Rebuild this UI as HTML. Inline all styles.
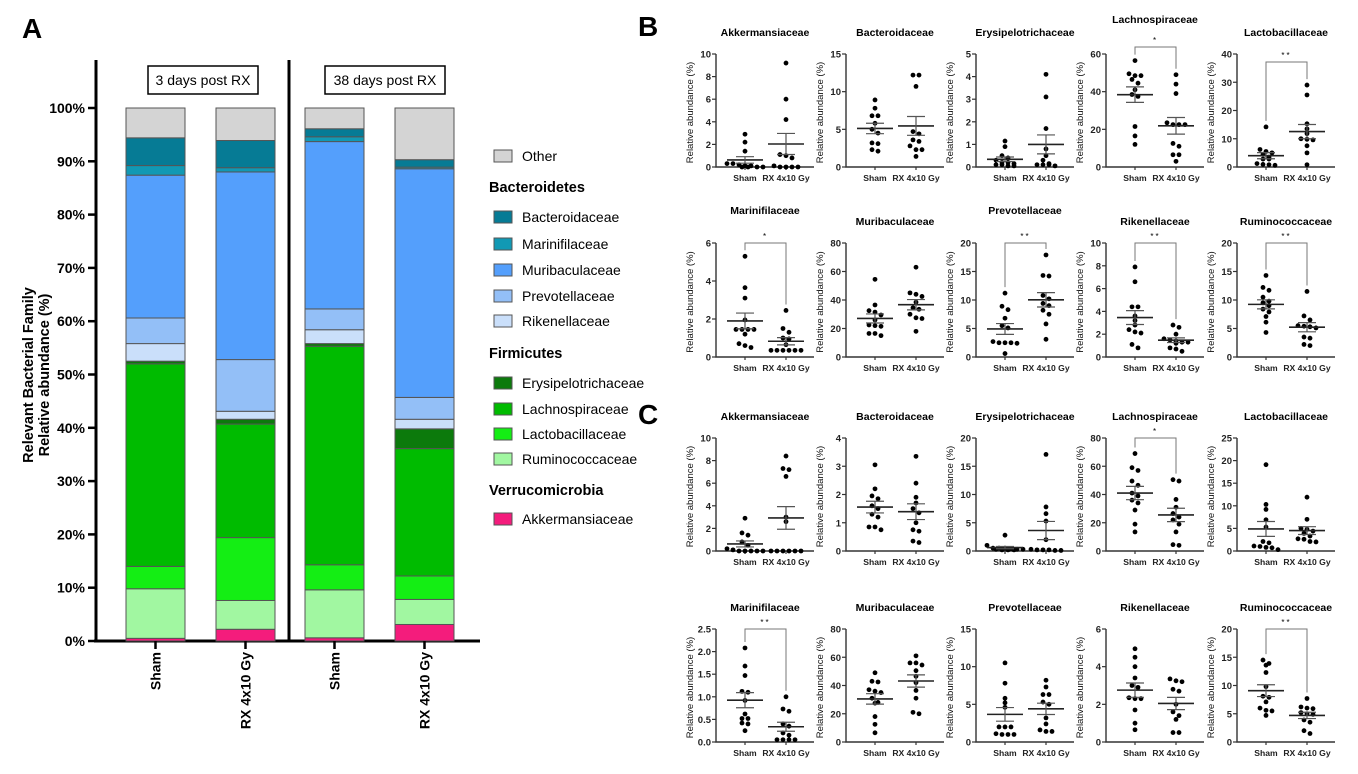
<!DOCTYPE html>
<html><head><meta charset="utf-8">
<style>
html,body{margin:0;padding:0;background:#fff;}
svg{display:block;font-family:"Liberation Sans",Arial,sans-serif;}
</style></head>
<body>
<svg id="fig" width="1358" height="774" viewBox="0 0 1358 774" xmlns="http://www.w3.org/2000/svg">
<g id="panelA"></g>
<g id="panelBC"></g>
</svg>
<script>
// ---------- Panel A data ----------
const familiesA = ["Akkermansiaceae","Ruminococcaceae","Lactobacillaceae","Lachnospiraceae","Erysipelotrichaceae","Rikenellaceae","Prevotellaceae","Muribaculaceae","Marinifilaceae","Bacteroidaceae","Other"];
const barGroupsA = ["Sham","RX 4x10 Gy","Sham","RX 4x10 Gy"];
const sham3 = [0.5,9.3,4.2,38.0,0.5,3.3,4.8,26.8,1.8,5.2,5.6];
const rx3 = [2.2,5.4,11.8,21.3,0.9,1.5,9.7,35.2,0.8,5.1,6.1];
const sham38 = [0.6,9.0,4.7,41.0,0.5,2.6,3.9,31.4,0.9,1.5,3.9];
const rx38 = [3.1,4.7,4.4,23.9,3.7,1.8,4.1,42.9,0.3,1.4,9.7];
const yTicksA = [0,10,20,30,40,50,60,70,80,90,100];

const colorsA = {"Other":"#d4d4d4","Bacteroidaceae":"#067b95","Marinifilaceae":"#1199b4","Muribaculaceae":"#549ffc","Prevotellaceae":"#93bff7","Rikenellaceae":"#cadffa","Erysipelotrichaceae":"#0c7a0c","Lachnospiraceae":"#00bb00","Lactobacillaceae":"#14ee14","Ruminococcaceae":"#a1f7a1","Akkermansiaceae":"#f41c7c"};

const NS="http://www.w3.org/2000/svg";
function mk(tag, attrs, parent, text){
  const e=document.createElementNS(NS,tag);
  for(const k in attrs) e.setAttribute(k,attrs[k]);
  if(text!==undefined) e.textContent=text;
  parent.appendChild(e); return e;
}

// Panel A axes
const A=document.getElementById('panelA');
const aY0=641, aY1=108;
function ayScale(v){return aY0-(aY0-aY1)*v/100;}
const barX=[126,216,305,395], barW=59;
let l;
l=mk('text',{x:22,y:38,'font-size':28,'font-weight':'bold'},A,'A');


l=mk('line',{x1:96,y1:60,x2:96,y2:aY0,stroke:'#000','stroke-width':3},A);


l=mk('line',{x1:289,y1:60,x2:289,y2:aY0,stroke:'#000','stroke-width':3},A);


l=mk('line',{x1:94,y1:aY0,x2:480,y2:aY0,stroke:'#000','stroke-width':3},A);


yTicksA.forEach(t=>{
  const y=ayScale(t);
  const tk=mk('line',{x1:88,y1:y,x2:96,y2:y,stroke:'#000','stroke-width':2.5},A);
  
  
  const tl=mk('text',{x:85,y:y+5,'font-size':14,'font-weight':'bold','text-anchor':'end'},A,t+'%');
  
  
});
let yt=mk('text',{transform:'translate(33,375) rotate(-90)','font-size':14.5,'font-weight':'bold','text-anchor':'middle'},A,'Relevant Bacterial Family');


yt=mk('text',{transform:'translate(49,375) rotate(-90)','font-size':14.5,'font-weight':'bold','text-anchor':'middle'},A,'Relative abundance (%)');


[[148,258,'3 days post RX'],[325,445,'38 days post RX']].forEach(b=>{
  const r=mk('rect',{x:b[0],y:66,width:b[1]-b[0],height:28,fill:'#fff',stroke:'#000','stroke-width':1.5},A);
  
  
  const t=mk('text',{x:(b[0]+b[1])/2,y:85,'font-size':14,'text-anchor':'middle'},A,b[2]);
  
  
});
[sham3,rx3,sham38,rx38].forEach((vals,i)=>{
  let cum=0;
  const x=barX[i];
  vals.forEach((v,j)=>{
    const yTop=ayScale(cum+v), yBot=ayScale(cum);
    const r=mk('rect',{x:x,y:yTop,width:barW,height:Math.max(0,yBot-yTop),fill:colorsA[familiesA[j]],stroke:'#555','stroke-width':1},A);
    
    
    cum+=v;
  });
  const cx=x+barW/2;
  const tk=mk('line',{x1:cx,y1:aY0,x2:cx,y2:aY0+8,stroke:'#000','stroke-width':2.5},A);
  
  
  const t=mk('text',{transform:`translate(${cx+5},652) rotate(-90)`,'font-size':14,'font-weight':'bold','text-anchor':'end'},A,barGroupsA[i]);
  
  
});
// Legend
const legendItems=[["Other",156,0],["Bacteroidetes",187,1],["Bacteroidaceae",217,0],["Marinifilaceae",244,0],["Muribaculaceae",270,0],["Prevotellaceae",296,0],["Rikenellaceae",321,0],["Firmicutes",353,1],["Erysipelotrichaceae",383,0],["Lachnospiraceae",409,0],["Lactobacillaceae",434,0],["Ruminococcaceae",459,0],["Verrucomicrobia",490,1],["Akkermansiaceae",519,0]];
legendItems.forEach(it=>{
  if(it[2]){
    const t=mk('text',{x:489,y:it[1]+5,'font-size':14.5,'font-weight':'bold'},A,it[0]);
    
    
  } else {
    const r=mk('rect',{x:494,y:it[1]-6,width:18,height:12,fill:colorsA[it[0]],stroke:'#555','stroke-width':1},A);
    
    
    const t=mk('text',{x:522,y:it[1]+5,'font-size':14},A,it[0]);
    
    
  }
});

// ---------- Panels B & C data ----------
const titlesRow = ["Akkermansiaceae","Bacteroidaceae","Erysipelotrichaceae","Lachnospiraceae","Lactobacillaceae","Marinifilaceae","Muribaculaceae","Prevotellaceae","Rikenellaceae","Ruminococcaceae"];
const groupLabels = ["Sham","RX 4x10 Gy"];
const bSham = [
 [2.9,2.2,1.4,0.3,0.3,0.2,0.1,0.1,0,0,0,0],
 [8.9,7.8,6.8,6.8,5.8,5.0,4.5,3.1,3.2,2.1,2.3],
 [1.15,0.9,0.5,0.4,0.3,0.2,0.2,0.15,0.1,0.1,0.05,0.05],
 [56.5,49.5,48.5,48.5,44.5,46.5,41,38.5,37.5,21.5,16.5,12],
 [14.2,6.2,5.5,5.0,4.5,3.5,2.8,2.8,1.2,0.6,0.8,0.9],
 [5.3,3.65,3.1,1.95,1.45,1.45,1.45,1.45,1.2,0.7,0.6,0.5],
 [54.5,36.5,32.5,31.5,29.5,26,22.5,22,21.5,16.5,16.5,15],
 [11.2,8.9,8.3,6.8,5.5,5.1,2.7,2.5,2.5,2.4,2.5,0.6],
 [7.9,6.6,4.4,4.4,3.6,3.2,2.8,2.2,2.4,2.1,1.1,0.8],
 [14.3,12.2,11.7,10.5,9.5,9.0,8.4,7.9,7.1,6.1,4.3,9.8]
];
const bRx = [
 [9.2,6.0,4.2,1.1,1.0,0.8,0.1,0,0,0,0],
 [12.2,12.2,10.7,4.4,4.7,3.4,3.6,2.3,2.3,2.8,1.4],
 [4.1,3.1,1.7,0.8,0.5,0.3,0.15,0.1,0.1,0.1,0.05],
 [49,44,39,23.5,22.5,22.5,22.5,12.5,11,6.5,6.5,3],
 [29,25.5,15.3,13.5,11.8,10,9.8,9.6,7.5,5,0.8],
 [2.45,1.5,1.3,1.0,0.95,0.65,0.35,0.35,0.35,0.35,0.35,0.35],
 [63,45,44,42.5,38.5,34.5,33.5,30,27,27.5,18],
 [17.9,14.3,14.2,10.8,10.2,9.4,9.0,8.2,7.5,5.8,3.1],
 [2.8,2.6,2.0,1.6,1.5,1.4,1.3,1.2,1.3,0.8,0.7,0.5],
 [11.5,7.2,6.5,5.5,5.4,5.3,5.1,3.5,3.3,2.2,2.0]
];
const cSham = [
 [2.9,1.6,1.4,0.8,0.5,0.2,0.1,0,0,0,0,0],
 [3.05,2.2,1.95,1.85,1.6,1.5,1.3,1.2,0.85,0.85,0.75],
 [2.8,1.0,0.5,0.5,0.5,0.4,0.3,0.3,0.3,0.2,0.2,0.2],
 [69,59,57,49.5,46.5,41,39,36,34,29,19,13.5],
 [19.1,10.3,9.2,6.9,5.3,2.1,1.8,1.1,1.0,0.8,0.7,0.3],
 [2.08,1.68,1.47,1.12,1.1,0.92,0.62,0.52,0.52,0.42,0.4,0.25],
 [49,43,42.5,37,36,35,31,28,27.5,18,12.5,6.5],
 [10.5,7.8,5.8,5.2,4.6,2.0,2.0,2.0,1.1,1.0,1.0,1.0],
 [4.95,4.5,4.0,3.4,3.0,2.9,2.35,2.3,2.3,1.7,1.0,0.65],
 [14.5,13.9,13.6,12.3,9.8,8.1,7.9,7.1,6.0,5.5,4.7,5.6]
];
const cRx = [
 [8.4,7.3,7.2,6.6,3.0,2.6,0,0,0,0,0,0],
 [3.35,2.4,1.9,1.7,1.5,1.35,1.0,0.75,0.7,0.35,0.3],
 [17.1,7.8,6.6,5.3,2.0,0.3,0.2,0.2,0.2,0.1,0.1],
 [50.5,49.5,36.5,31,26.5,24,22,19,13.5,4.5,4],
 [11.9,7.0,5.0,4.8,4.4,3.9,3.3,2.7,2.6,2.1,2.0],
 [1.0,0.73,0.68,0.4,0.35,0.2,0.15,0.05,0.05,0.05,0.05],
 [61,56,56,54.5,50.5,46.5,42,36.5,31,21,20],
 [8.2,7.3,6.3,6.3,5.3,5.0,3.2,2.4,1.6,1.4,1.4],
 [3.35,3.25,3.2,2.8,2.7,2.0,1.6,1.4,1.2,0.5,0.5],
 [7.7,6.2,6.0,5.9,5.2,5.0,4.9,3.9,3.5,2.0,1.5]
];
const bMax = [10,15,5,60,40,6,80,20,10,20];
const bStep = [2,5,1,20,10,2,20,5,2,5];
const cMax = [10,4,20,80,25,2.5,80,15,6,20];
const cStep = [2,1,5,20,5,0.5,20,5,2,5];
const bSig = ["","","","*","**","*","","**","**","**"];
const cSig = ["","","","*","","**","","","","**"];

const colAxisX=[716,846,976,1106,1237];
const rowsGeom=[[54,167],[243,357],[438,551],[629,742]];
const P=document.getElementById('panelBC');
l=mk('text',{x:638,y:36,'font-size':28,'font-weight':'bold'},P,'B');


l=mk('text',{x:638,y:424,'font-size':28,'font-weight':'bold'},P,'C');



function fmt(v,step){return step<1? v.toFixed(1): String(v);}
function meanSem(a){const n=a.length;const m=a.reduce((s,x)=>s+x,0)/n;const sd=Math.sqrt(a.reduce((s,x)=>s+(x-m)*(x-m),0)/(n-1));return [m,sd/Math.sqrt(n)];}

function drawPlot(panel, idx, sham, rx, vmax, step, sig){
  const row = (panel==='B'?0:2) + (idx<5?0:1);
  const ax = colAxisX[idx%5];
  const [top,bot]=rowsGeom[row];
  const g=mk('g',{},P);
  
  
  const ys=v=>bot-(bot-top)*v/vmax;
  let titleY = top-18;
  if(panel==='B' && idx===3) titleY=top-31;
  if(panel==='B' && (idx===5||idx===7)) titleY=top-29;
  const tt=mk('text',{x:ax+49,y:titleY,'font-size':10.5,'font-weight':'bold','text-anchor':'middle'},g,titlesRow[idx]);
  
  
  const yl=mk('text',{transform:`translate(${ax-23},${(top+bot)/2+2}) rotate(-90)`,'font-size':9.5,'text-anchor':'middle',fill:'#111'},g,'Relative abundance (%)');
  
  
  const axl=mk('path',{d:`M${ax},${top} V${bot} H${ax+98}`,fill:'none',stroke:'#333','stroke-width':1.4},g);
  
  
  for(let t=0;t<=vmax+1e-9;t+=step){
    const y=ys(t);
    const tk=mk('line',{x1:ax-4,y1:y,x2:ax,y2:y,stroke:'#333','stroke-width':1.2},g);
    
    
    const tl=mk('text',{x:ax-5,y:y+3.5,'font-size':9.5,'font-weight':'bold','text-anchor':'end',fill:'#222'},g,fmt(t,step));
    
    
  }
  const cxs=[ax+29,ax+70];
  [sham,rx].forEach((vals,gi)=>{
    const cx=cxs[gi];
    const tk=mk('line',{x1:cx,y1:bot,x2:cx,y2:bot+3,stroke:'#333','stroke-width':1.2},g);
    
    
    const lb=mk('text',{x:cx,y:bot+14,'font-size':8.6,'font-weight':'bold','text-anchor':'middle',fill:'#222'},g,groupLabels[gi]);
    
    
    const sorted=vals.slice().sort((a,b)=>b-a);
    const rowsPts=[];
    sorted.forEach(v=>{
      const y=ys(v);
      const last=rowsPts[rowsPts.length-1];
      if(last && Math.abs(last.y0-y)<4.5 && last.pts.length<7) last.pts.push(y);
      else rowsPts.push({y0:y,pts:[y]});
    });
    rowsPts.forEach(rw=>{
      const n=rw.pts.length;
      rw.pts.forEach((y,k)=>{
        const dx=(k-(n-1)/2)*6;
        const c=mk('circle',{cx:cx+dx,cy:y,r:2.4,fill:'#000'},g);
        
        
      });
    });
    const [m,se]=meanSem(vals);
    const ml=mk('line',{x1:cx-18,y1:ys(m),x2:cx+18,y2:ys(m),stroke:'#222','stroke-width':1.6},g);
    
    
    const eb=mk('path',{d:`M${cx},${ys(m+se)} V${ys(m-se)} M${cx-9},${ys(m+se)} H${cx+9} M${cx-9},${ys(m-se)} H${cx+9}`,fill:'none',stroke:'#555','stroke-width':1.2},g);
    
    
  });
  if(sig){
    const by = (panel==='B'&&idx===3)? top-7 : (idx===4? top+8 : top);
    const m1=Math.max(...sham), m2=Math.max(...rx);
    const l1=Math.max(by+4, ys(m1)-6), l2=Math.max(by+4, ys(m2)-6);
    const br=mk('path',{d:`M${cxs[0]},${l1} V${by} H${cxs[1]} V${l2}`,fill:'none',stroke:'#777','stroke-width':1},g);
    
    
    const st=mk('text',{x:(cxs[0]+cxs[1])/2,y:by-4,'font-size':8,'text-anchor':'middle','letter-spacing':'2'},g,sig);
    
    
  }
}
for(let i=0;i<10;i++){
  drawPlot('B',i,bSham[i],bRx[i],bMax[i],bStep[i],bSig[i]);
  drawPlot('C',i,cSham[i],cRx[i],cMax[i],cStep[i],cSig[i]);
}
</script>
</body></html>
